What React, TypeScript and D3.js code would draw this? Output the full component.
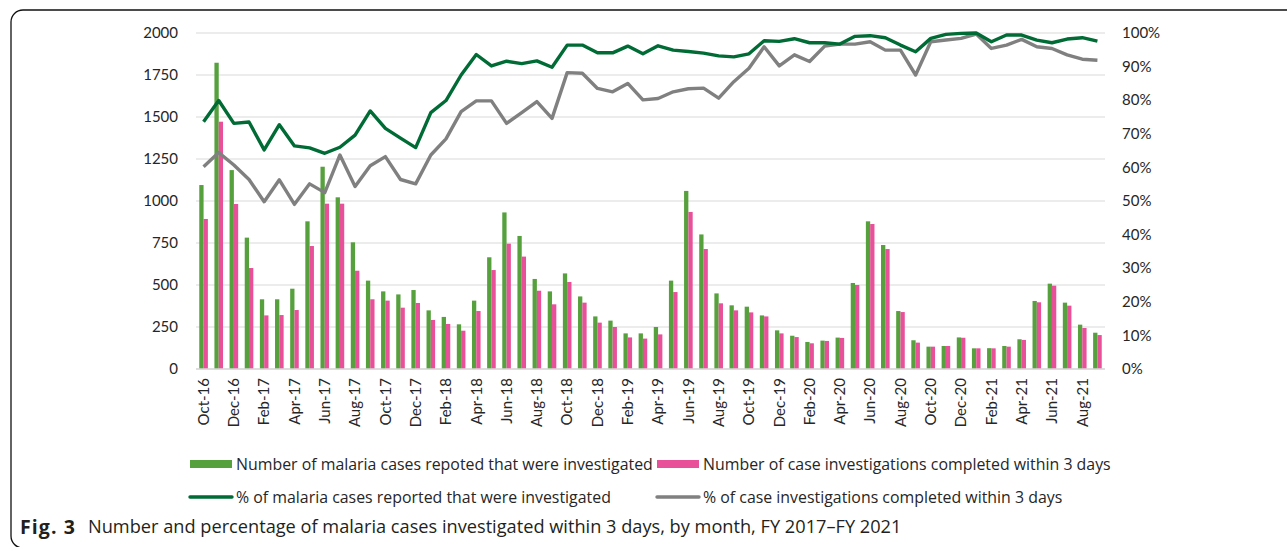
import React from "react";
import * as d3 from "d3";

const months = [
  "Oct-16","Nov-16","Dec-16","Jan-17","Feb-17","Mar-17","Apr-17","May-17","Jun-17","Jul-17","Aug-17","Sep-17",
  "Oct-17","Nov-17","Dec-17","Jan-18","Feb-18","Mar-18","Apr-18","May-18","Jun-18","Jul-18","Aug-18","Sep-18",
  "Oct-18","Nov-18","Dec-18","Jan-19","Feb-19","Mar-19","Apr-19","May-19","Jun-19","Jul-19","Aug-19","Sep-19",
  "Oct-19","Nov-19","Dec-19","Jan-20","Feb-20","Mar-20","Apr-20","May-20","Jun-20","Jul-20","Aug-20","Sep-20",
  "Oct-20","Nov-20","Dec-20","Jan-21","Feb-21","Mar-21","Apr-21","May-21","Jun-21","Jul-21","Aug-21","Sep-21",
];

const investigated = [
  1095,1823,1184,782,415,415,478,879,1204,1022,754,526,462,444,470,
  349,310,266,407,665,932,792,536,462,569,432,313,288,212,212,
  250,526,1060,801,450,379,371,319,230,198,161,169,187,512,879,
  738,345,171,133,137,188,123,124,137,177,405,508,395,264,216,
];

const completed = [
  893,1472,982,601,319,321,351,732,984,984,585,415,407,365,393,
  292,268,228,345,589,746,669,466,385,518,395,276,250,188,181,
  206,458,935,714,391,349,337,313,212,190,153,167,185,500,863,
  714,339,157,133,137,186,123,123,133,173,397,496,377,244,202,
];

const pctInvestigated = [
  73.6,79.9,73.1,73.5,65.2,72.7,66.4,65.8,64.2,66.0,69.6,76.8,71.6,68.7,65.9,
  76.3,79.9,87.5,93.6,90.2,91.6,90.9,91.7,89.8,96.4,96.4,94.1,94.1,96.1,93.8,
  96.2,94.9,94.5,94.0,93.2,92.9,93.8,97.7,97.5,98.3,97.1,97.1,96.7,99.0,99.2,
  98.6,96.4,94.4,98.4,99.6,99.9,100,97.4,99.4,99.4,97.9,97.1,98.2,98.6,97.6,
];

const pctCompleted = [
  60.2,64.4,60.7,56.4,49.8,56.3,49.0,55.1,52.5,63.7,54.3,60.5,63.2,56.4,55.1,
  63.7,68.5,76.6,79.8,79.8,73.1,76.3,79.6,74.6,88.2,88.0,83.5,82.5,85.0,80.1,
  80.5,82.5,83.4,83.6,80.6,85.5,89.5,95.9,90.2,93.5,91.5,96.1,96.7,96.7,97.4,
  94.9,94.9,87.5,97.4,97.9,98.4,99.7,95.4,96.4,98.1,95.9,95.4,93.5,92.2,91.9,
];

const leftTicks = [0, 250, 500, 750, 1000, 1250, 1500, 1750, 2000];
const rightTicks = [0, 10, 20, 30, 40, 50, 60, 70, 80, 90, 100];

const legendBars = [
  "Number of malaria cases repoted that were investigated",
  "Number of case investigations completed within 3 days",
];
const legendLines = [
  "% of malaria cases reported that were investigated",
  "% of case investigations completed within 3 days",
];

const C_GREEN_BAR = "#56A13D";
const C_PINK_BAR = "#E8509A";
const C_GREEN_LINE = "#006B35";
const C_GRAY_LINE = "#808080";
const C_GRID = "#D9D9D9";
const C_TEXT = "#262626";
const FONT = "Lato, 'Open Sans', sans-serif";
const LEG_FONT = "'Open Sans', sans-serif";
const LEG_SIZE = 15.9;

export default function App() {
  const W = 1287, H = 547;
  const left = 196, right = 1105, top = 33, bottom = 369;

  const x = d3.scaleBand<string>().domain(months).range([left, right]).paddingInner(0).paddingOuter(0);
  const yL = d3.scaleLinear().domain([0, 2000]).range([bottom, top]);
  const yR = d3.scaleLinear().domain([0, 100]).range([bottom, top]);
  const barW = 4.3;

  const lineGen = (vals: number[]) =>
    d3.line<number>()
      .x((_, i) => (x(months[i]) as number) + x.bandwidth() / 2)
      .y((v) => yR(v))(vals) as string;

  return (
    <svg width={W} height={H} style={{ position: "absolute", left: 0, top: 0, background: "#fff" }}>
      <rect x={11} y={10} width={1320} height={538} rx={12} ry={12} fill="none" stroke="#111" strokeWidth={1.3} />
      {leftTicks.map((t) => (
        <line key={"g" + t} x1={left} x2={right} y1={yL(t)} y2={yL(t)} stroke={C_GRID} strokeWidth={1.2} />
      ))}
      {leftTicks.map((t) => (
        <text key={"l" + t} x={178} y={yL(t)} dy="0.35em" textAnchor="end" fontFamily={FONT} fontSize={15} fill={C_TEXT}>
          {t}
        </text>
      ))}
      {rightTicks.map((t) => (
        <text key={"r" + t} x={1122} y={yR(t)} dy="0.35em" textAnchor="start" fontFamily={FONT} fontSize={15} fill={C_TEXT}>
          {t + "%"}
        </text>
      ))}
      {months.map((m, i) => {
        const cx = (x(m) as number) + x.bandwidth() / 2;
        return (
          <g key={m}>
            <rect x={cx - barW} y={yL(investigated[i])} width={barW} height={bottom - yL(investigated[i])} fill={C_GREEN_BAR} />
            <rect x={cx} y={yL(completed[i])} width={barW} height={bottom - yL(completed[i])} fill={C_PINK_BAR} />
          </g>
        );
      })}
      <line x1={left} x2={right} y1={bottom} y2={bottom} stroke={C_GRID} strokeWidth={1.5} />
      {months.map((m, i) =>
        i % 2 === 0 ? (
          <text
            key={"x" + m}
            transform={`translate(${(x(m) as number) + x.bandwidth() / 2},${bottom + 9}) rotate(-90)`}
            dy="0.35em"
            textAnchor="end"
            fontFamily={FONT}
            fontSize={15}
            fill={C_TEXT}
          >
            {m}
          </text>
        ) : null
      )}
      <path d={lineGen(pctCompleted)} fill="none" stroke={C_GRAY_LINE} strokeWidth={3.4} strokeLinejoin="round" />
      <path d={lineGen(pctInvestigated)} fill="none" stroke={C_GREEN_LINE} strokeWidth={3.4} strokeLinejoin="round" />

      <rect x={190} y={460} width={42} height={8} fill={C_GREEN_BAR} />
      <text x={236} y={464} dy="0.35em" fontFamily={LEG_FONT} fontSize={LEG_SIZE} fill={C_TEXT}>{legendBars[0]}</text>
      <rect x={657} y={460} width={42} height={8} fill={C_PINK_BAR} />
      <text x={703} y={464} dy="0.35em" fontFamily={LEG_FONT} fontSize={LEG_SIZE} fill={C_TEXT}>{legendBars[1]}</text>

      <line x1={190} x2={232} y1={497} y2={497} stroke={C_GREEN_LINE} strokeWidth={3.4} strokeLinecap="round" />
      <text x={236} y={497} dy="0.35em" fontFamily={LEG_FONT} fontSize={LEG_SIZE} fill={C_TEXT}>{legendLines[0]}</text>
      <line x1={657} x2={699} y1={497} y2={497} stroke={C_GRAY_LINE} strokeWidth={3.4} strokeLinecap="round" />
      <text x={703} y={497} dy="0.35em" fontFamily={LEG_FONT} fontSize={LEG_SIZE} fill={C_TEXT}>{legendLines[1]}</text>

      <text x={20} y={527} dy="0.35em" fontFamily="'Open Sans', sans-serif" fontSize={19.5} fontWeight="bold" letterSpacing={1.1} fill="#231F20">
        Fig. 3
      </text>
      <text x={88} y={527} dy="0.35em" fontFamily="'Open Sans', sans-serif" fontSize={18.2} fill="#231F20">
        Number and percentage of malaria cases investigated within 3 days, by month, FY 2017–FY 2021
      </text>
    </svg>
  );
}
